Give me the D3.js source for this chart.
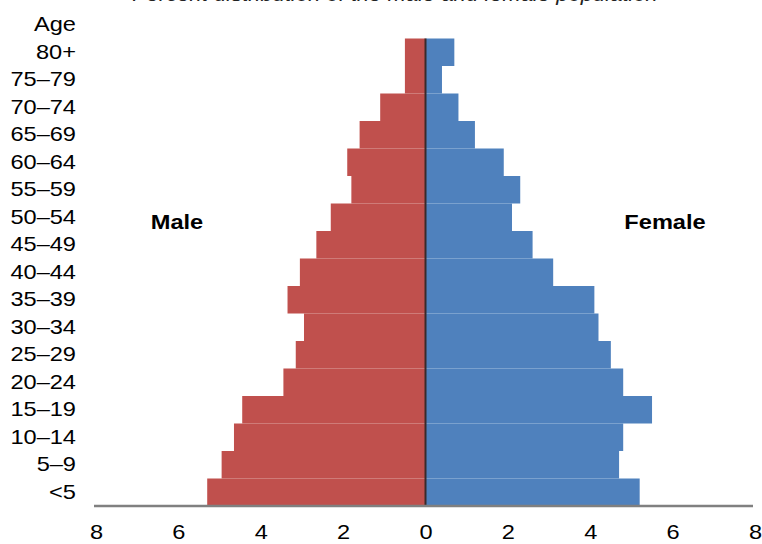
<!DOCTYPE html>
<html>
<head>
<meta charset="utf-8">
<script src="https://cdn.jsdelivr.net/npm/d3@7"></script>
<style>
  html, body { margin: 0; padding: 0; background: #fff; }
  svg { display: block; font-family: "Liberation Sans", Arial, sans-serif; }
</style>
</head>
<body>
<svg id="chart" width="762" height="544"></svg>
<script>
const ageGroups = ["<5", "5–9", "10–14", "15–19", "20–24", "25–29", "30–34", "35–39",
  "40–44", "45–49", "50–54", "55–59", "60–64", "65–69", "70–74", "75–79", "80+"];
const maleValues = [5.3, 4.95, 4.65, 4.45, 3.45, 3.15, 2.95, 3.35, 3.05, 2.65, 2.3, 1.8, 1.9, 1.6, 1.1, 0.5, 0.5];
const femaleValues = [5.2, 4.7, 4.8, 5.5, 4.8, 4.5, 4.2, 4.1, 3.1, 2.6, 2.1, 2.3, 1.9, 1.2, 0.8, 0.4, 0.7];
const xTicks = [-8, -6, -4, -2, 0, 2, 4, 6, 8];
const titleText = "Percent distribution of the male and female population";
const seriesNames = ["Male", "Female"];

const colors = { male: "#C0504D", female: "#4F81BD" };
const stretch = "scale(1.18,1)";
const svg = d3.select("#chart");
const margin = { left: 96, right: 755, top: 38.5, bottom: 506 };

const x = d3.scaleLinear().domain([-8, 8]).range([margin.left, margin.right]);
const y = d3.scaleBand().domain(ageGroups).range([margin.bottom, margin.top]).padding(0);

// title (clipped at top, as in the reference)
svg.append("g").attr("transform", "translate(395,1)")
  .append("text")
  .attr("text-anchor", "middle")
  .attr("font-size", 20).attr("font-style", "italic")
  .attr("fill", "#222")
  .attr("transform", "scale(1.1,1)")
  .text(titleText);

// bars
const data = ageGroups.map((g, i) => ({ g, m: maleValues[i], f: femaleValues[i] }));
svg.append("g").selectAll("rect").data(data).join("rect")
  .attr("x", d => x(-d.m)).attr("y", d => y(d.g))
  .attr("width", d => x(0) - x(-d.m)).attr("height", y.bandwidth())
  .attr("fill", colors.male);
svg.append("g").selectAll("rect").data(data).join("rect")
  .attr("x", x(0)).attr("y", d => y(d.g))
  .attr("width", d => x(d.f) - x(0)).attr("height", y.bandwidth())
  .attr("fill", colors.female);

// center line
svg.append("line")
  .attr("x1", x(0)).attr("x2", x(0))
  .attr("y1", margin.top).attr("y2", margin.bottom)
  .attr("stroke", "#3a2a2a").attr("stroke-width", 2);

// x axis
const xAxis = d3.axisBottom(x).tickValues(xTicks).tickSize(0).tickPadding(0)
  .tickFormat(d => Math.abs(d));
const gx = svg.append("g").attr("transform", `translate(0,${margin.bottom})`).call(xAxis);
gx.select(".domain").attr("stroke", "#808080").attr("stroke-width", 2.5)
  .attr("d", `M${margin.left - 2},0H${margin.right - 2}`);
gx.selectAll(".tick text").attr("font-size", 20).attr("fill", "#000")
  .attr("font-family", "Liberation Sans, Arial, sans-serif")
  .attr("dy", null).attr("y", 33.5).attr("transform", stretch);

// y axis labels
const yAxis = d3.axisLeft(y).tickSize(0).tickPadding(0);
const gy = svg.append("g").attr("transform", `translate(76,0)`).call(yAxis);
gy.select(".domain").remove();
gy.selectAll(".tick text").attr("font-size", 20).attr("fill", "#000")
  .attr("font-family", "Liberation Sans, Arial, sans-serif")
  .attr("transform", stretch);

svg.append("g").attr("transform", `translate(76,${y("80+") - y.bandwidth() / 2})`)
  .append("text")
  .attr("dy", "0.32em").attr("text-anchor", "end")
  .attr("font-size", 20).attr("transform", stretch).text("Age");

// series labels
svg.append("g").attr("transform", "translate(177,222)").append("text")
  .attr("dy", "0.35em").attr("text-anchor", "middle")
  .attr("font-weight", "bold").attr("font-size", 20).attr("transform", stretch)
  .text(seriesNames[0]);
svg.append("g").attr("transform", "translate(665,222)").append("text")
  .attr("dy", "0.35em").attr("text-anchor", "middle")
  .attr("font-weight", "bold").attr("font-size", 20).attr("transform", stretch)
  .text(seriesNames[1]);
</script>
</body>
</html>
